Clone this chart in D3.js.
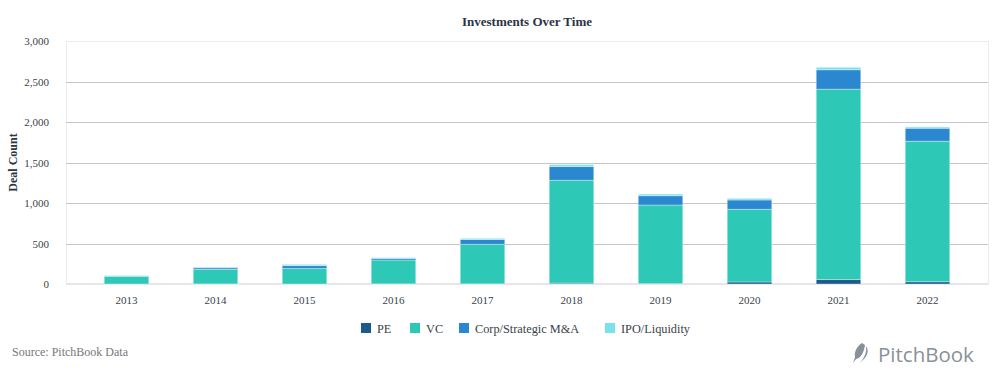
<!DOCTYPE html>
<html>
<head>
<meta charset="utf-8">
<script src="https://cdn.jsdelivr.net/npm/d3@7"></script>
<style>
body { margin: 0; background: #fff; }
</style>
</head>
<body>
<div class="chart"></div>
<script>
// data
const years = ['2013','2014','2015','2016','2017','2018','2019','2020','2021','2022'];
const pe   = [0, 1, 0, 2, 2, 10, 5, 25, 55, 28];
const vc   = [93, 180, 191, 294, 488, 1270, 970, 897, 2350, 1735];
const corp = [5, 20, 36, 20, 60, 170, 115, 115, 240, 160];
const ipo  = [7, 9, 15, 9, 14, 24, 20, 20, 30, 16];
const seriesNames = ['PE', 'VC', 'Corp/Strategic M&A', 'IPO/Liquidity'];
const colors = ['#1b5a8a', '#2ec9b6', '#2a87d0', '#7ae3ea'];
const yTicks = [0, 500, 1000, 1500, 2000, 2500, 3000];

const serif = '"Liberation Serif", "Times New Roman", serif';
const width = 994;
const height = 372;
const svg = d3.select('.chart')
    .append('svg')
    .attr('width', width)
    .attr('height', height)
    .attr('font-family', serif)

const plotLeft = 66, plotRight = 988, plotTop = 41, plotBottom = 284;

let table = years.map((y, i) => ({year: y, PE: pe[i], VC: vc[i], 'Corp/Strategic M&A': corp[i], 'IPO/Liquidity': ipo[i]}));
let stacked = d3.stack().keys(seriesNames)(table);

const x = d3.scaleBand().domain(years).range([82, 972]).paddingInner(0.5).paddingOuter(0.25);
const y = d3.scaleLinear().domain([0, 3000]).range([plotBottom, plotTop]);

// plot frame
svg.append('rect')
    .attr('x', plotLeft + 0.5).attr('y', plotTop + 0.5)
    .attr('width', plotRight - plotLeft).attr('height', plotBottom - plotTop)
    .attr('fill', 'none').attr('stroke', '#ececec');

// gridlines
svg.append('g')
    .selectAll('line')
    .data(yTicks.filter(d => d > 0 && d < 3000))
    .enter()
    .append('line')
    .attr('x1', plotLeft).attr('x2', plotRight)
    .attr('y1', d => Math.round(y(d)) + 0.5).attr('y2', d => Math.round(y(d)) + 0.5)
    .attr('stroke', '#c6c6c6');

// y axis
let yAxis = svg.append('g')
    .attr('transform', `translate(${plotLeft},0)`)
    .call(d3.axisLeft(y).tickValues(yTicks).tickFormat(d3.format(',')).tickSize(0).tickPadding(17));
yAxis.select('.domain').remove();
yAxis.selectAll('text').attr('font-size', 11).attr('fill', '#3a3f4a').attr('font-family', serif);

// x axis
let xAxis = svg.append('g')
    .attr('transform', `translate(0,${plotBottom})`)
    .call(d3.axisBottom(x).tickSize(0).tickPadding(12));
xAxis.select('.domain').attr('stroke', '#e6e6ea').attr('stroke-width', 2).attr('d', `M${plotLeft},0H${plotRight}`);
xAxis.selectAll('text').attr('font-size', 11).attr('fill', '#3a3f4a').attr('font-family', serif);

// bars
svg.append('g')
    .selectAll('g')
    .data(stacked)
    .enter()
    .append('g')
    .attr('fill', (d, i) => colors[i])
    .selectAll('rect')
    .data(d => d)
    .enter()
    .append('rect')
    .attr('x', d => x(d.data.year))
    .attr('width', x.bandwidth())
    .attr('y', d => y(d[1]))
    .attr('height', d => y(d[0]) - y(d[1]))
    .attr('stroke', '#ffffff')
    .attr('stroke-opacity', 0.35)
    .attr('stroke-width', 1);

// title
svg.append('text')
    .text('Investments Over Time')
    .attr('x', (plotLeft + plotRight) / 2).attr('y', 26)
    .attr('text-anchor', 'middle')
    .attr('font-size', 13).attr('font-weight', 'bold').attr('fill', '#2b3445');

// y label
svg.append('text')
    .text('Deal Count')
    .attr('transform', `translate(17,${(plotTop + plotBottom) / 2}) rotate(-90)`)
    .attr('text-anchor', 'middle')
    .attr('font-size', 12).attr('font-weight', 'bold').attr('fill', '#2b3445');

// legend
const legendX = [361, 410, 459, 605];
let legend = svg.append('g')
    .selectAll('g')
    .data(seriesNames)
    .enter()
    .append('g')
    .attr('transform', (d, i) => `translate(${legendX[i]},323)`);
legend.append('rect')
    .attr('width', 10).attr('height', 10)
    .attr('fill', (d, i) => colors[i]);
legend.append('text')
    .text(d => d)
    .attr('x', 16).attr('y', 9.5)
    .attr('font-size', 12.3).attr('fill', '#3a3f4a');

// source
svg.append('text')
    .text('Source: PitchBook Data')
    .attr('x', 12).attr('y', 356)
    .attr('font-size', 12).attr('fill', '#777');

// logo
let logo = svg.append('g').attr('transform', 'translate(853,343)');
logo.append('path')
    .attr('d', 'M9,0 C4,3 1,9 2,14 L0,20 L3,16 C8,15 11,9 12,2 Z')
    .attr('fill', '#8a9099');
logo.append('path')
    .attr('d', 'M13,3 C16,7 15,12 10,17 L7,20 C12,14 14,8 13,3 Z')
    .attr('fill', '#8a9099');
logo.append('text')
    .text('PitchBook')
    .attr('x', 25).attr('y', 18.5)
    .attr('font-family', '"Open Sans", "Noto Sans", sans-serif')
    .attr('font-size', 20.5).attr('fill', '#8a9099');
</script>
</body>
</html>
